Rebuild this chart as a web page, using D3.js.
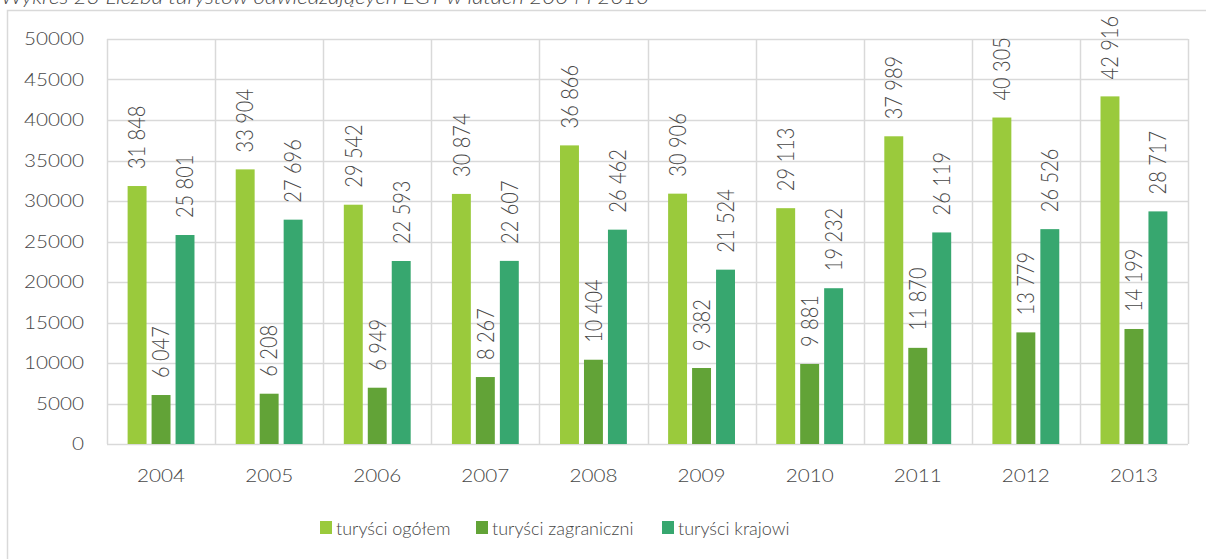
<!DOCTYPE html>
<html>
<head>
<meta charset="utf-8">
<script src="https://cdn.jsdelivr.net/npm/d3@7"></script>
<style>
  html, body { margin: 0; padding: 0; background: #fff; }
  svg { display: block; font-family: "Lato", "Open Sans", sans-serif; font-weight: 300; }
</style>
</head>
<body>
<div id="chart"></div>
<script>
const years = ["2004", "2005", "2006", "2007", "2008", "2009", "2010", "2011", "2012", "2013"];
const seriesNames = ["turyści ogółem", "turyści zagraniczni", "turyści krajowi"];
const totalVals = [31848, 33904, 29542, 30874, 36866, 30906, 29113, 37989, 40305, 42916];
const foreignVals = [6047, 6208, 6949, 8267, 10404, 9382, 9881, 11870, 13779, 14199];
const domesticVals = [25801, 27696, 22593, 22607, 26462, 21524, 19232, 26119, 26526, 28717];
const yTicks = [0, 5000, 10000, 15000, 20000, 25000, 30000, 35000, 40000, 45000, 50000];
const titleText = "Wykres 23 Liczba turystów odwiedzających EGT w latach 2004 i 2013";

const width = 1206;
const height = 559;
const margin = { top: 39, right: 18, bottom: 115, left: 107 };
const innerWidth = width - margin.left - margin.right;
const innerHeight = height - margin.top - margin.bottom;
const SX = 1.15; // the source picture is stretched sideways
const textColor = "#474747";
const gridColor = "#d9d9d9";
const colors = ["#9aca3c", "#62a337", "#37a76f"];

const rows = years.map((y, i) => ({
  year: y,
  values: [totalVals[i], foreignVals[i], domesticVals[i]]
}));

const fmt = d3.formatLocale({ decimal: ",", thousands: " ", grouping: [3], currency: ["", ""] }).format(",d");

const svg = d3.select("#chart")
  .append("svg")
  .attr("width", width)
  .attr("height", height);

// outer frame
svg.append("rect")
  .attr("x", 7.5).attr("y", 10.5)
  .attr("width", 1300).attr("height", 700)
  .attr("fill", "none")
  .attr("stroke", gridColor)
  .attr("stroke-width", 1.5);

// title (cut off at the top)
svg.append("text")
  .attr("transform", `translate(1,4) scale(1.18,1)`)
  .attr("font-size", 19)
  .attr("font-style", "italic")
  .attr("fill", textColor)
  .text(titleText);

const chart = svg.append("g")
  .attr("transform", `translate(${margin.left},${margin.top})`);

const x = d3.scaleBand()
  .domain(years)
  .range([0, innerWidth]);

const xs = d3.scaleBand()
  .domain(d3.range(seriesNames.length))
  .range([0, x.bandwidth()])
  .paddingInner(0.21)
  .paddingOuter(0.86);

const y = d3.scaleLinear()
  .domain([0, 50000])
  .range([innerHeight, 0]);

// grid
chart.append("g")
  .selectAll("line")
  .data(yTicks)
  .join("line")
  .attr("x1", 0).attr("x2", innerWidth)
  .attr("y1", d => Math.round(y(d)) + 0.5)
  .attr("y2", d => Math.round(y(d)) + 0.5)
  .attr("stroke", gridColor)
  .attr("stroke-width", 1.5);

chart.append("g")
  .selectAll("line")
  .data(years.concat(["end"]))
  .join("line")
  .attr("x1", (d, i) => Math.round(i * x.step()) + 0.5)
  .attr("x2", (d, i) => Math.round(i * x.step()) + 0.5)
  .attr("y1", 0).attr("y2", innerHeight)
  .attr("stroke", gridColor)
  .attr("stroke-width", 1.5);

// y labels
chart.append("g")
  .selectAll("text")
  .data(yTicks)
  .join("text")
  .attr("transform", d => `translate(-23,${y(d)}) scale(${SX},1)`)
  .attr("text-anchor", "end")
  .attr("dy", "0.36em")
  .attr("font-size", 18)
  .attr("fill", textColor)
  .text(d => d);

// x labels
chart.append("g")
  .selectAll("text")
  .data(years)
  .join("text")
  .attr("transform", d => `translate(${x(d) + x.bandwidth() / 2},${innerHeight + 38}) scale(${SX},1)`)
  .attr("text-anchor", "middle")
  .attr("font-size", 18)
  .attr("fill", textColor)
  .text(d => d);

// bars
const groups = chart.selectAll(".grp")
  .data(rows)
  .join("g")
  .attr("class", "grp")
  .attr("transform", d => `translate(${x(d.year)},0)`);

groups.selectAll("rect")
  .data(d => d.values)
  .join("rect")
  .attr("x", (d, i) => xs(i))
  .attr("y", d => y(d))
  .attr("width", xs.bandwidth())
  .attr("height", d => innerHeight - y(d))
  .attr("fill", (d, i) => colors[i]);

// value labels
groups.selectAll("text")
  .data(d => d.values)
  .join("text")
  .attr("transform", (d, i) => `translate(${xs(i) + xs.bandwidth() / 2},${y(d) - 17}) scale(${SX},1) rotate(-90)`)
  .attr("dy", "0.36em")
  .attr("font-size", 20)
  .attr("fill", textColor)
  .text(d => fmt(d));

// legend
const legendX = [320, 476, 662];
const legend = svg.append("g")
  .selectAll("g")
  .data(seriesNames)
  .join("g")
  .attr("transform", (d, i) => `translate(${legendX[i]},521)`);

legend.append("rect")
  .attr("width", 12).attr("height", 13)
  .attr("fill", (d, i) => colors[i]);

legend.append("text")
  .attr("transform", `translate(16,14) scale(1.0,1)`)
  .attr("font-size", 18)
  .attr("fill", textColor)
  .text(d => d);
</script>
</body>
</html>
